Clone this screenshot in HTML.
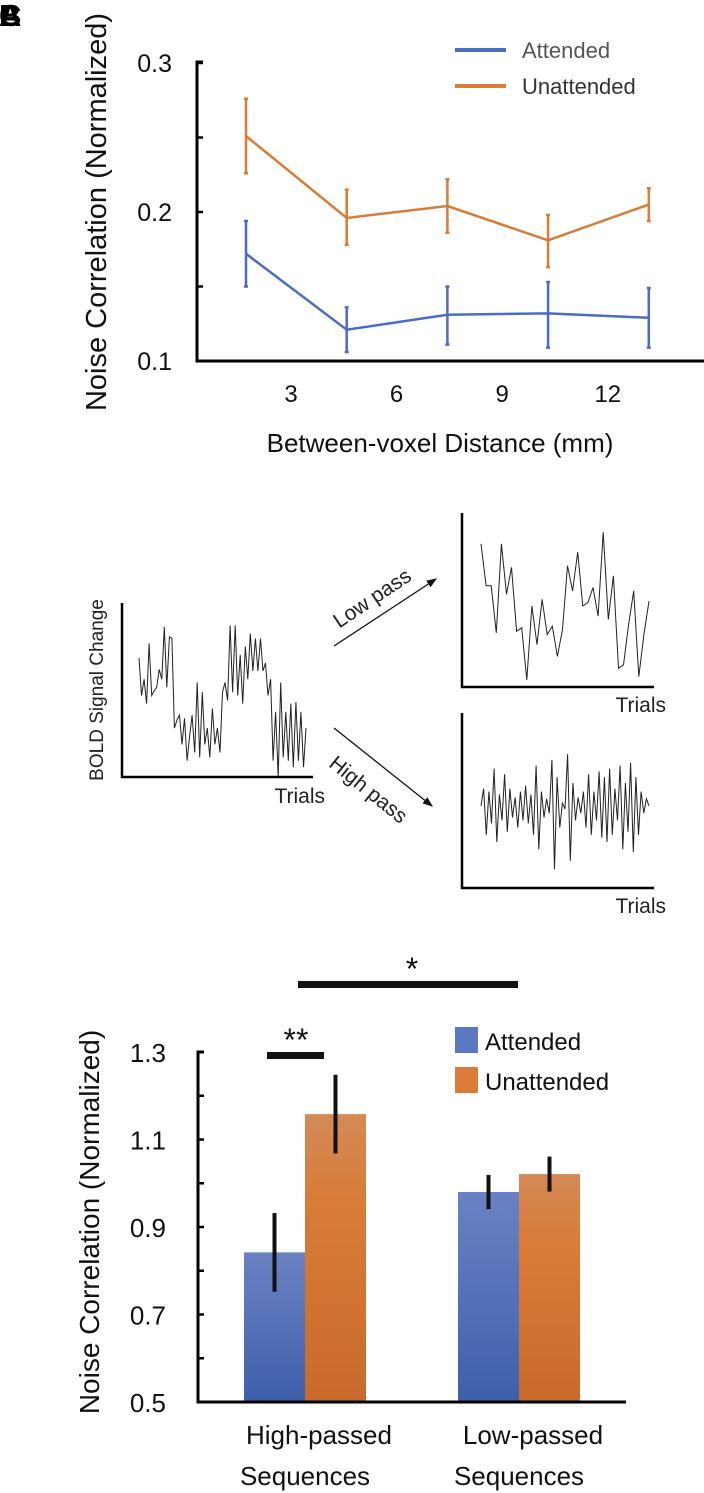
<!DOCTYPE html>
<html><head><meta charset="utf-8"><style>
html,body{margin:0;padding:0;background:#fff}
svg{display:block;font-family:"Liberation Sans",sans-serif}
</style></head><body>
<svg id="fig" width="704" height="1493" viewBox="0 0 704 1493" xmlns="http://www.w3.org/2000/svg">
<g font-weight="bold" font-size="31" fill="#000">
<text x="-1" y="26">A</text>
<text x="-1" y="26">B</text>
<text x="-1" y="26">C</text>
</g>
<g id="lineChart"></g>
<g id="signals"></g>
<g id="barChart"></g>
</svg>
<script>
// ===== Panel A data =====
const distCats = [1.5, 4.5, 7.5, 10.5, 13.5];
const attVals = [0.172, 0.121, 0.131, 0.132, 0.129];
const attHi = [0.194, 0.136, 0.150, 0.153, 0.149];
const attLo = [0.150, 0.106, 0.111, 0.109, 0.109];
const unaVals = [0.251, 0.196, 0.204, 0.181, 0.205];
const unaHi = [0.276, 0.215, 0.222, 0.198, 0.216];
const unaLo = [0.226, 0.178, 0.186, 0.163, 0.194];
const yTicksA = [0.1, 0.2, 0.3];
const xTickLabelsA = [3, 6, 9, 12];
// ===== Panel B data =====
const rawSignal = [0.73,0.5,0.6,0.45,0.82,0.5,0.53,0.55,0.66,0.6,0.92,0.55,0.86,0.85,0.3,0.35,0.38,0.2,0.36,0.1,0.25,0.38,0.15,0.58,0.12,0.52,0.2,0.3,0.12,0.42,0.2,0.3,0.15,0.52,0.58,0.47,0.93,0.52,0.93,0.5,0.75,0.45,0.8,0.6,0.88,0.65,0.85,0.65,0.85,0.65,0.7,0.5,0.6,0.1,0.4,0.0,0.58,0.12,0.4,0.1,0.45,0.06,0.46,0.1,0.4,0.06,0.3];
const lowSignal = [0.87,0.62,0.62,0.34,0.87,0.57,0.73,0.35,0.37,0.06,0.5,0.27,0.54,0.33,0.38,0.2,0.36,0.74,0.59,0.82,0.5,0.52,0.61,0.44,0.94,0.42,0.68,0.13,0.15,0.39,0.59,0.08,0.33,0.53];
const highSignal = [0.5,0.62,0.3,0.6,0.38,0.76,0.25,0.58,0.4,0.72,0.32,0.62,0.42,0.56,0.35,0.6,0.4,0.64,0.38,0.58,0.3,0.78,0.2,0.6,0.42,0.55,0.45,0.82,0.06,0.7,0.35,0.52,0.48,0.86,0.12,0.66,0.4,0.56,0.45,0.6,0.35,0.72,0.3,0.6,0.4,0.74,0.28,0.7,0.25,0.76,0.3,0.62,0.4,0.78,0.2,0.66,0.32,0.8,0.18,0.7,0.3,0.6,0.45,0.55,0.5];
// ===== Panel C data =====
const barGroups = ["High-passed|Sequences", "Low-passed|Sequences"];
const barAtt = [0.842, 0.980];
const barAttErr = [0.090, 0.039];
const barUna = [1.158, 1.021];
const barUnaErr = [0.090, 0.040];
const yTicksC = [0.5, 0.7, 0.9, 1.1, 1.3];

const NS = "http://www.w3.org/2000/svg";
function mk(parent, tag, attrs, text) {
  const e = document.createElementNS(NS, tag);
  for (const k in attrs) e.setAttribute(k, attrs[k]);
  if (text !== undefined) e.textContent = text;
  parent.appendChild(e);
  return e;
}

// ---------- Panel A ----------
(function(){
  const g = document.getElementById('lineChart');
  const ax = 197, ay = 361, ax2 = 704;
  const y = v => 361 - (v - 0.1) / 0.2 * 298;
  const xi = i => 246 + i * 100.7;
  const xt = t => 291 + (t - 3) * 35.2;
  let e;
  e = mk(g, 'path', {d:`M${ax+6},62 H${ax} V${ay} H${ax2}`, fill:'none', stroke:'#000', 'stroke-width':3});
  
  
  for (let v = 0.1; v <= 0.3001; v += 0.05) {
    e = mk(g, 'line', {x1:ax, x2:ax+6, y1:y(v), y2:y(v), stroke:'#000', 'stroke-width':2.5});
    
    
  }
  yTicksA.forEach(v => {
    e = mk(g, 'text', {x:172, y:y(v)+9, 'text-anchor':'end', 'font-size':25, fill:'#111'}, v.toFixed(1));
    
    
  });
  xTickLabelsA.forEach(t => {
    e = mk(g, 'text', {x:xt(t), y:402, 'text-anchor':'middle', 'font-size':24, fill:'#111'}, String(t));
    
    
  });
  e = mk(g, 'text', {x:440, y:452, 'text-anchor':'middle', 'font-size':26, fill:'#111'}, 'Between-voxel Distance (mm)');
  
  
  e = mk(g, 'text', {x:0, y:0, 'text-anchor':'middle', 'font-size':29, fill:'#111', transform:'translate(106,212) rotate(-90)'}, 'Noise Correlation (Normalized)');
  
  
  const series = [
    {vals:unaVals, hi:unaHi, lo:unaLo, color:'#d97c36', name:'unattended'},
    {vals:attVals, hi:attHi, lo:attLo, color:'#4a6cc4', name:'attended'}
  ];
  series.forEach(s => {
    const pts = s.vals.map((v,i) => `${xi(i)},${y(v)}`).join(' ');
    e = mk(g, 'polyline', {points:pts, fill:'none', stroke:s.color, 'stroke-width':2.5});
    
    
    s.vals.forEach((v,i) => {
      e = mk(g, 'path', {d:`M${xi(i)},${y(s.hi[i])} V${y(s.lo[i])} M${xi(i)-2},${y(s.hi[i])} h4 M${xi(i)-2},${y(s.lo[i])} h4`, stroke:s.color, 'stroke-width':2.5, fill:'none'});
      
      
    });
  });
  e = mk(g, 'line', {x1:455, x2:506, y1:50, y2:50, stroke:'#4a6cc4', 'stroke-width':4});
  
  
  e = mk(g, 'text', {x:522, y:58, 'font-size':22, fill:'#555'}, 'Attended');
  
  
  e = mk(g, 'line', {x1:455, x2:506, y1:86, y2:86, stroke:'#d97c36', 'stroke-width':4});
  
  
  e = mk(g, 'text', {x:522, y:94, 'font-size':22, fill:'#333'}, 'Unattended');
  
  
})();

// ---------- Panel B ----------
(function(){
  const g = document.getElementById('signals');
  let e;
  function panel(name, x0, yTop, yBot, xEnd, data, tx0, tx1, tTop, tBot, trialsY) {
    e = mk(g, 'path', {d:`M${x0},${yTop} V${yBot} H${xEnd}`, fill:'none', stroke:'#000', 'stroke-width':2.5});
    
    
    const n = data.length;
    const pts = data.map((v,i) => `${(tx0 + (tx1-tx0)*i/(n-1)).toFixed(1)},${(tBot - v*(tBot-tTop)).toFixed(1)}`).join(' ');
    e = mk(g, 'polyline', {points:pts, fill:'none', stroke:'#222', 'stroke-width':1});
    
    
    e = mk(g, 'text', {x:xEnd+12, y:trialsY, 'text-anchor':'end', 'font-size':21, fill:'#222'}, 'Trials');
    
    
  }
  panel('raw-signal', 122, 603, 777, 313, rawSignal, 139, 306, 614, 777, 803);
  panel('low-pass-signal', 462, 513, 687, 654, lowSignal, 481, 649, 522, 690, 712);
  panel('high-pass-signal', 462, 713, 888, 654, highSignal, 481, 649, 734, 878, 913);
  e = mk(g, 'text', {x:0, y:0, 'text-anchor':'middle', 'font-size':19, fill:'#222', transform:'translate(103,690) rotate(-90)'}, 'BOLD Signal Change');
  
  
  mk(g, 'defs', {}).innerHTML = '<marker id="ah" markerWidth="8" markerHeight="6" refX="7" refY="3" orient="auto"><path d="M0,0 L8,3 L0,6 z" fill="#111"/></marker>';
  e = mk(g, 'line', {x1:334, y1:646, x2:436, y2:579, stroke:'#111', 'stroke-width':1.3, 'marker-end':'url(#ah)'});
  
  
  e = mk(g, 'line', {x1:334, y1:728, x2:432, y2:806, stroke:'#111', 'stroke-width':1.3, 'marker-end':'url(#ah)'});
  
  
  e = mk(g, 'text', {x:0, y:0, 'text-anchor':'middle', 'font-size':21, fill:'#222', transform:'translate(376,604) rotate(-34)'}, 'Low pass');
  
  
  e = mk(g, 'text', {x:0, y:0, 'text-anchor':'middle', 'font-size':21, fill:'#222', transform:'translate(364,795) rotate(39)'}, 'High pass');
  
  
})();

// ---------- Panel C ----------
(function(){
  const g = document.getElementById('barChart');
  const defs = mk(g, 'defs', {});
  defs.innerHTML = '<linearGradient id="gb" x1="0" y1="0" x2="0" y2="1"><stop offset="0" stop-color="#6a82c4"/><stop offset="1" stop-color="#3f5fab"/></linearGradient>' +
    '<linearGradient id="go" x1="0" y1="0" x2="0" y2="1"><stop offset="0" stop-color="#d48a55"/><stop offset="0.3" stop-color="#d97c38"/><stop offset="1" stop-color="#c96a2c"/></linearGradient>';
  const ax = 198, ay = 1402, ax2 = 626;
  const y = v => 1402 - (v - 0.5) / 0.8 * 350;
  const groupX = i => 305 + i * 214;
  const bw = 61;
  let e;
  barAtt.forEach((v,i) => {
    const cx = groupX(i);
    e = mk(g, 'rect', {x:cx-bw, y:y(v), width:bw, height:ay-y(v), fill:'url(#gb)'});
    
    
    e = mk(g, 'rect', {x:cx, y:y(barUna[i]), width:bw, height:ay-y(barUna[i]), fill:'url(#go)'});
    
    
    e = mk(g, 'line', {x1:cx-bw/2, x2:cx-bw/2, y1:y(v+barAttErr[i]), y2:y(v-barAttErr[i]), stroke:'#111', 'stroke-width':4});
    
    
    e = mk(g, 'line', {x1:cx+bw/2, x2:cx+bw/2, y1:y(barUna[i]+barUnaErr[i]), y2:y(barUna[i]-barUnaErr[i]), stroke:'#111', 'stroke-width':4});
    
    
    const parts = barGroups[i].split('|');
    e = mk(g, 'text', {x:cx+14, y:1444, 'text-anchor':'middle', 'font-size':26, fill:'#111'}, parts[0]);
    
    
    e = mk(g, 'text', {x:cx, y:1485, 'text-anchor':'middle', 'font-size':26, fill:'#111'}, parts[1]);
    
    
  });
  e = mk(g, 'path', {d:`M${ax+6},1052 H${ax} V${ay} H${ax2}`, fill:'none', stroke:'#000', 'stroke-width':3});
  
  
  for (let v = 0.5; v <= 1.3001; v += 0.1) {
    e = mk(g, 'line', {x1:ax, x2:ax+6, y1:y(v), y2:y(v), stroke:'#000', 'stroke-width':2.5});
    
    
  }
  yTicksC.forEach(v => {
    e = mk(g, 'text', {x:166, y:y(v)+10, 'text-anchor':'end', 'font-size':26, fill:'#111'}, v.toFixed(1));
    
    
  });
  e = mk(g, 'text', {x:0, y:0, 'text-anchor':'middle', 'font-size':28, fill:'#111', transform:'translate(99,1222) rotate(-90)'}, 'Noise Correlation (Normalized)');
  
  
  e = mk(g, 'rect', {x:298, y:981, width:220, height:7, fill:'#111'});
  
  
  e = mk(g, 'text', {x:412, y:980, 'text-anchor':'middle', 'font-size':32, fill:'#111'}, '*');
  
  
  e = mk(g, 'rect', {x:267, y:1052, width:57, height:7, fill:'#111'});
  
  
  e = mk(g, 'text', {x:296, y:1051, 'text-anchor':'middle', 'font-size':32, fill:'#111'}, '**');
  
  
  e = mk(g, 'rect', {x:455, y:1027, width:23, height:26, fill:'#5b78c2'});
  
  
  e = mk(g, 'text', {x:485, y:1050, 'font-size':24, fill:'#111'}, 'Attended');
  
  
  e = mk(g, 'rect', {x:455, y:1067, width:23, height:26, fill:'#d97c38'});
  
  
  e = mk(g, 'text', {x:485, y:1090, 'font-size':24, fill:'#111'}, 'Unattended');
  
  
})();
</script>
</body></html>
